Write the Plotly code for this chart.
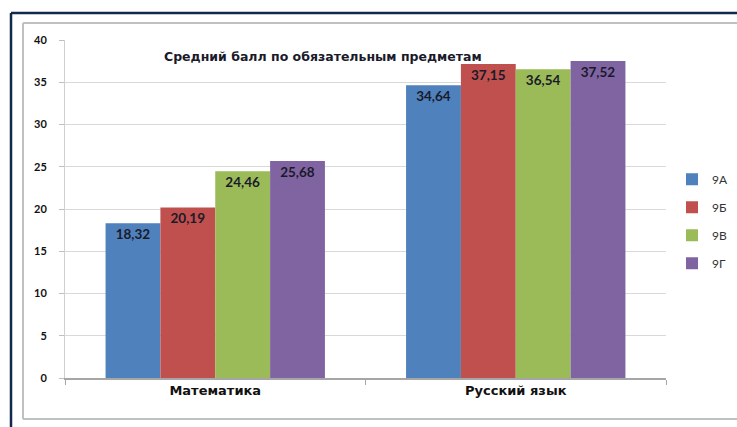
import plotly.graph_objects as go

categories = ["Математика", "Русский язык"]
series_names = ["9А", "9Б", "9В", "9Г"]
values_9a = [18.32, 34.64]
values_9b = [20.19, 37.15]
values_9v = [24.46, 36.54]
values_9g = [25.68, 37.52]
series_values = [values_9a, values_9b, values_9v, values_9g]
colors = ["#4F81BD", "#C0504D", "#9BBB59", "#8064A2"]
title_text = "Средний балл по обязательным предметам"
y_ticks = [0, 5, 10, 15, 20, 25, 30, 35, 40]

FONT = "Lato, 'Liberation Sans', sans-serif"
WIDE = "'DejaVu Sans', sans-serif"

fig = go.Figure()
for name, vals, col in zip(series_names, series_values, colors):
    fig.add_trace(go.Bar(
        x=categories, y=vals, name=name, legendgroup=name,
        marker=dict(color=col, line=dict(width=0)),
        texttemplate="%{y:.2f}", textposition="inside",
        insidetextanchor="end", textangle=0,
        textfont=dict(family=FONT, size=13.5, color="#1a1a2a", weight="bold"),
        cliponaxis=False,
    ))

fig.update_layout(
    width=737, height=427,
    paper_bgcolor="white", plot_bgcolor="white",
    margin=dict(l=65, r=71, t=40, b=49, autoexpand=False),
    barmode="group", bargap=0.27, bargroupgap=0,
    separators=", ",
    font=dict(family=FONT, size=12, color="#222222"),
    showlegend=True,
    legend=dict(
        x=1.01, xanchor="left", y=0.464, yanchor="middle",
        xref="paper", yref="paper",
        font=dict(family=FONT, size=12, color="#333333"),
        traceorder="grouped", tracegroupgap=9,
        itemwidth=30, bgcolor="rgba(0,0,0,0)",
    ),
    uniformtext=dict(minsize=13, mode="show"),
)

fig.update_xaxes(
    type="category", showgrid=False,
    showline=True, linecolor="#a6a6a6", linewidth=1.5,
    ticks="outside", tickson="boundaries", ticklen=5, tickcolor="#a6a6a6",
    tickfont=dict(family=WIDE, size=13, color="#111111", weight="bold"),
    fixedrange=True,
)
fig.update_yaxes(
    range=[0, 40], tickvals=y_ticks,
    showgrid=True, gridcolor="#d9d9d9", gridwidth=1,
    showline=True, linecolor="#d0d0d0", linewidth=1,
    ticks="outside", ticklen=5, tickcolor="#bfbfbf",
    zeroline=False,
    tickfont=dict(family=FONT, size=11, color="#111111", weight="bold"),
    ticklabelstandoff=10,
)

# title inside plot area
fig.add_annotation(
    text=title_text, xref="paper", yref="paper",
    x=0.43, y=0.95, xanchor="center", yanchor="middle",
    showarrow=False,
    font=dict(family=WIDE, size=12.5, color="#1a1a2a", weight="bold"),
)

# outer navy frame and inner gray frame (pixel positions via paper coords)
W, H = 737, 427
ML, MR, MT, MB = 65, 71, 40, 49
pw, ph = W - ML - MR, H - MT - MB
def px(x):
    return (x - ML) / pw
def py(y):
    return (H - MB - y) / ph

fig.add_shape(type="line", xref="paper", yref="paper",
              x0=px(11), x1=px(737), y0=py(13), y1=py(13),
              line=dict(color="#13294B", width=2.5))
fig.add_shape(type="line", xref="paper", yref="paper",
              x0=px(11), x1=px(11), y0=py(13), y1=py(427),
              line=dict(color="#13294B", width=2.5))
fig.add_shape(type="line", xref="paper", yref="paper",
              x0=px(23), x1=px(737), y0=py(23), y1=py(23),
              line=dict(color="#c0c0c0", width=2))
fig.add_shape(type="line", xref="paper", yref="paper",
              x0=px(23), x1=px(23), y0=py(23), y1=py(419),
              line=dict(color="#c0c0c0", width=2))
fig.add_shape(type="line", xref="paper", yref="paper",
              x0=px(23), x1=px(737), y0=py(419), y1=py(419),
              line=dict(color="#c0c0c0", width=2))

fig.write_html("out.html", config={"displayModeBar": False},
               post_script="document.body.style.margin='0';document.body.style.overflow='hidden';")
